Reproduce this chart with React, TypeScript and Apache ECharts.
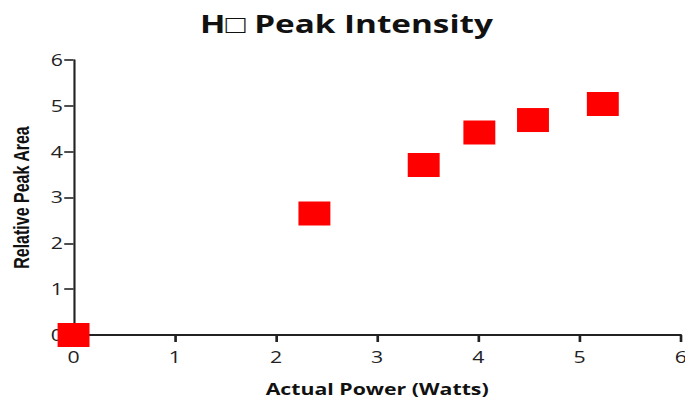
import React, { useEffect, useRef } from "react";
import * as echarts from "echarts";

const titleText = "H\u25A1 Peak Intensity";
const xAxisName = "Actual Power (Watts)";
const yAxisName = "Relative Peak Area";
const powerWatts = [0, 2.38, 3.46, 4.01, 4.54, 5.23];
const peakArea = [0, 2.65, 3.71, 4.42, 4.69, 5.04];

const INNER_W = 515;
const OUTER_W = 685;
const H = 401;
const SX = OUTER_W / INNER_W;

export default function App() {
  const ref = useRef<HTMLDivElement>(null);
  useEffect(() => {
    if (!ref.current) return;
    const chart = echarts.init(ref.current, undefined, { renderer: "svg" });
    const data = powerWatts.map((x, i) => [x, peakArea[i]]);
    chart.setOption({
      animation: false,
      backgroundColor: "#ffffff",
      title: {
        text: titleText,
        left: 255.5,
        textAlign: "center",
        top: 6,
        textStyle: {
          fontFamily: "'Open Sans', sans-serif",
          fontWeight: "bold",
          fontSize: 25,
          color: "#111",
        },
      },
      grid: {
        left: 55.3,
        right: 3.2,
        top: 60,
        bottom: 66,
        containLabel: false,
        outerBoundsMode: "none",
      },
      xAxis: {
        type: "value",
        min: 0,
        max: 6,
        interval: 1,
        name: xAxisName,
        nameLocation: "middle",
        nameGap: 46,
        nameTextStyle: {
          fontFamily: "'Open Sans', sans-serif",
          fontWeight: "bold",
          fontSize: 16,
          color: "#111",
        },
        splitLine: { show: false },
        axisLine: { show: true, onZero: false, lineStyle: { color: "#222", width: 2 } },
        axisTick: { show: true, length: 7, lineStyle: { color: "#222", width: 2 } },
        axisLabel: {
          margin: 14,
          fontFamily: "'Open Sans', sans-serif",
          fontSize: 16,
          color: "#222",
        },
      },
      yAxis: {
        type: "value",
        min: 0,
        max: 6,
        interval: 1,
        name: yAxisName,
        nameLocation: "middle",
        nameGap: 31,
        nameTextStyle: {
          fontFamily: "'Liberation Sans', Arial, sans-serif",
          fontWeight: "bold",
          fontSize: 16,
          color: "#111",
        },
        splitLine: { show: false },
        axisLine: { show: true, onZero: false, lineStyle: { color: "#222", width: 1.6 } },
        axisTick: { show: true, length: 7, lineStyle: { color: "#222", width: 1.6 } },
        axisLabel: {
          margin: 8,
          fontFamily: "'Open Sans', sans-serif",
          fontSize: 16,
          color: "#222",
        },
      },
      series: [
        {
          type: "scatter",
          data,
          symbol: "rect",
          symbolSize: 24,
          clip: false,
          itemStyle: { color: "#ff0000", opacity: 1 },
          z: 5,
        },
      ],
    });
    return () => chart.dispose();
  }, []);
  return (
    <div
      style={{
        position: "fixed",
        left: 0,
        top: 0,
        width: OUTER_W,
        height: H,
        overflow: "hidden",
        background: "#fff",
      }}
    >
      <div
        ref={ref}
        style={{
          width: INNER_W,
          height: H,
          transform: `scaleX(${SX})`,
          transformOrigin: "0 0",
        }}
      />
    </div>
  );
}
